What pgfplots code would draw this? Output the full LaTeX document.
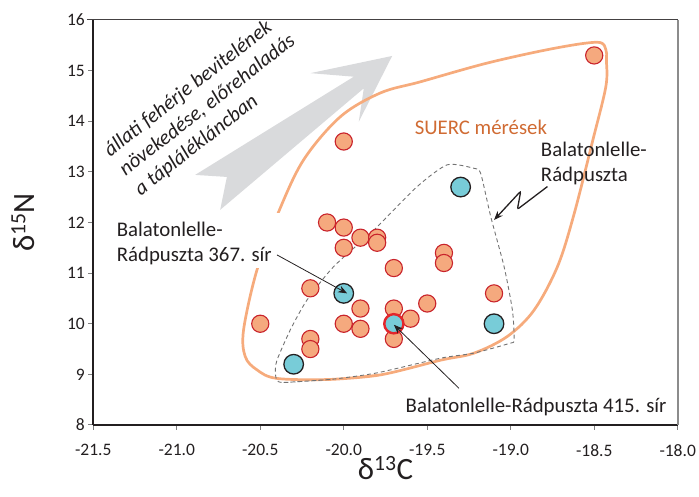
\documentclass[border=0pt]{standalone}
\usepackage{fontspec}
\setmainfont{Carlito}
\usepackage{pgfplots}
\pgfplotsset{compat=1.18}
\usetikzlibrary{arrows.meta}

\definecolor{ink}{HTML}{231F20}
\definecolor{suercfill}{HTML}{F5A97E}
\definecolor{suercedge}{HTML}{C9232B}
\definecolor{brfill}{HTML}{78CCD8}
\definecolor{envelope}{HTML}{F6AB7C}
\definecolor{suerctext}{HTML}{D06B33}
\definecolor{trend}{HTML}{D9DADC}
\definecolor{graveedge}{HTML}{E3262B}
\newcommand\annfont{\fontsize{20.8}{24.8}\selectfont}

\begin{document}
\begin{tikzpicture}
\useasboundingbox (-93.3pt,-72pt) rectangle (605.7pt,425pt);
\begin{axis}[
  at={(0pt,0pt)}, anchor=south west,
  scale only axis, width=584.4pt, height=405pt,
  xmin=-21.5, xmax=-18, ymin=8, ymax=16,
  axis x line*=bottom, axis y line*=left,
  axis line style={line width=2pt, color=ink},
  xtick={-21.5,-21,-20.5,-20,-19.5,-19,-18.5,-18},
  xticklabels={-21.5,-21.0,-20.5,-20.0,-19.5,-19.0,-18.5,-18.0},
  ytick={8,9,...,16},
  yticklabels={8,9,10,11,12,13,14,15,16},
  tick align=outside, major tick length=5pt,
  tick style={line width=1pt, color=gray},
  ticklabel style={font=\fontsize{17.5}{20}\selectfont, text=ink},
  xticklabel style={yshift=-11pt},
  clip=false,
]
% trend arrow: increasing animal protein, rising trophic level
\fill[trend] (axis cs:-20.89,12.94) -- (axis cs:-19.94,14.88) -- (axis cs:-20.20,14.95)
  -- (axis cs:-19.71,15.29) -- (axis cs:-19.91,13.99) -- (axis cs:-19.88,14.65)
  -- (axis cs:-20.74,12.25) -- (axis cs:-20.70,12.90) -- cycle;
\node[rotate=38, align=left, font=\annfont\itshape, text=ink, inner sep=0pt]
  at (axis cs:-20.816,14.31) {állati fehérje bevitelének\\növekedése, előrehaladás\\a táplálékláncban};

% envelope of the SUERC measurements
\addplot[envelope, line width=2.7pt, smooth, tension=0.55] coordinates {
  (-19.78,8.99) (-20.08,8.90) (-20.40,8.92) (-20.52,9.09) (-20.59,9.35)
  (-20.60,9.88) (-20.52,11.06) (-20.39,12.21) (-20.24,13.24) (-20.02,14.09)
  (-19.78,14.56) (-19.54,14.78) (-19.14,15.15) (-18.74,15.44) (-18.48,15.56)
  (-18.43,15.41) (-18.427,15.21) (-18.43,14.69) (-18.508,13.63) (-18.622,12.15)
  (-18.72,11.13) (-18.86,10.27) (-19.02,9.75) (-19.22,9.42) (-19.42,9.28)
  (-19.78,8.99) (-20.08,8.90)
};
% envelope of the Balatonlelle-Rádpuszta samples
\addplot[black!55, line width=0.9pt, dash pattern=on 4pt off 3pt, smooth, tension=0.4] coordinates {
  (-20.08,8.90) (-20.36,8.84) (-20.40,8.89) (-20.41,9.03) (-20.40,9.28)
  (-20.32,9.88) (-20.22,10.47) (-20.06,11.13) (-19.82,11.85) (-19.56,12.71)
  (-19.38,13.14) (-19.22,13.07) (-19.18,12.97) (-19.12,12.12) (-19.04,11.13)
  (-18.99,10.27) (-18.98,9.68) (-19.01,9.61) (-19.22,9.42) (-19.42,9.32)
  (-19.80,9.03) (-20.08,8.90) (-20.36,8.84)
};

\node[anchor=base west, font=\annfont, text=suerctext, inner sep=0pt] at (axis cs:-19.576,13.731) {SUERC mérések};
\node[anchor=base west, font=\annfont, text=ink, inner sep=0pt] at (axis cs:-18.82,13.303) {Balatonlelle-};
\node[anchor=base west, font=\annfont, text=ink, inner sep=0pt] at (axis cs:-18.82,12.802) {Rádpuszta};

\fill[white] (axis cs:-21.40,11.10) rectangle (axis cs:-20.37,12.19);
\node[anchor=base west, font=\annfont, text=ink, inner sep=0pt] at (axis cs:-21.36,11.721) {Balatonlelle-};
\node[anchor=base west, font=\annfont, text=ink, inner sep=0pt] at (axis cs:-21.36,11.227) {Rádpuszta 367. sír};
\node[anchor=base west, font=\annfont, text=ink, inner sep=0pt] at (axis cs:-19.63,8.243) {Balatonlelle-Rádpuszta 415. sír};

% SUERC measurements
\addplot[only marks, mark=*, mark size=8.6pt,
  mark options={fill=suercfill, draw=suercedge, line width=1.1pt}] coordinates {
  (-18.5,15.3) (-20.0,13.6) (-20.1,12.0) (-20.0,11.9) (-19.9,11.7) (-19.8,11.7)
  (-19.8,11.6) (-20.0,11.5) (-19.4,11.4) (-19.4,11.2) (-19.7,11.1) (-20.2,10.7)
  (-19.1,10.6) (-19.5,10.4) (-19.9,10.3) (-19.7,10.3) (-20.5,10.0) (-20.0,10.0)
  (-19.9,9.9) (-19.6,10.1) (-19.7,9.7) (-20.2,9.7) (-20.2,9.5)
};
% Balatonlelle-Rádpuszta
\addplot[only marks, mark=*, mark size=9.8pt,
  mark options={fill=brfill, draw=ink, line width=1.3pt}] coordinates {
  (-19.3,12.7) (-20.0,10.6) (-19.1,10.0) (-20.3,9.2)
};
% grave 415
\addplot[only marks, mark=*, mark size=9.6pt,
  mark options={fill=brfill, draw=graveedge, line width=2.4pt}] coordinates {
  (-19.7,10.0)
};

% anchor points for the pointers, drawn above the marks after the axis
\coordinate (p367a) at (axis cs:-20.40,11.36);
\coordinate (p367b) at (axis cs:-19.98,10.60);
\coordinate (p415a) at (axis cs:-19.31,8.725);
\coordinate (p415b) at (axis cs:-19.70,9.98);
\coordinate (zz1) at (axis cs:-18.78,12.71);
\coordinate (zz2) at (axis cs:-18.96,12.26);
\coordinate (zz3) at (axis cs:-18.94,12.62);
\coordinate (zz4) at (axis cs:-19.10,12.05);

% frame
\draw[ink!85, line width=1pt] (rel axis cs:-0.011,1) -- (rel axis cs:1,1);
\draw[gray!90, line width=1.6pt] (rel axis cs:1,1) -- (rel axis cs:1,0);

% axis titles
\node[rotate=90, font=\fontsize{31}{36}\selectfont, text=ink] at (rel axis cs:-0.1203,0.5) {δ\textsuperscript{15}N};
\node[font=\fontsize{31}{36}\selectfont, text=ink] at (rel axis cs:0.5,-0.106) {δ\textsuperscript{13}C};
\end{axis}
\draw[ink, line width=0.8pt, -{Stealth[length=9pt,width=7pt]}] (p367a) -- (p367b);
\draw[ink, line width=0.8pt, -{Stealth[length=9pt,width=7pt]}] (p415a) -- (p415b);
\draw[ink, line width=1.3pt, rounded corners=2pt, -{Stealth[length=9pt,width=7pt]}]
  (zz1) -- (zz2) -- (zz3) -- (zz4);
\end{tikzpicture}
\end{document}
